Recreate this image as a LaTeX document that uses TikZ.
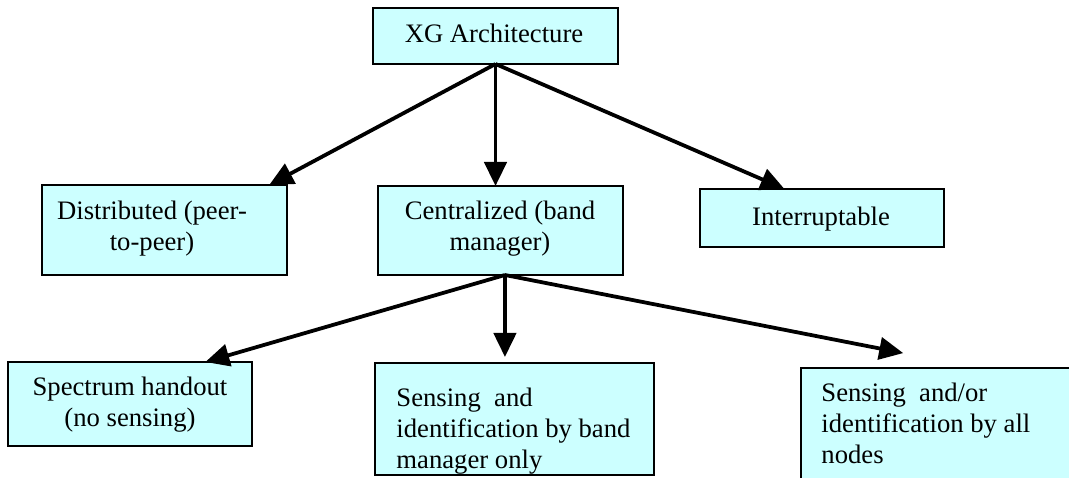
\documentclass[tikz,border=0pt]{standalone}
\usepackage{fontspec}
\setmainfont{Liberation Serif}
\usetikzlibrary{arrows.meta}
\definecolor{boxcyan}{HTML}{CCFFFF}
\begin{document}
\begin{tikzpicture}[x=0.45pt,y=-0.45pt,
  box/.style={draw=black,line width=0.75pt,fill=boxcyan,inner sep=0pt,outer sep=0pt},
  txt/.style={inner sep=0pt,font=\fontsize{12pt}{13.8pt}\selectfont,anchor=north,align=center},
  txtl/.style={txt,anchor=north west,align=left},
  conn/.style={line width=1.7pt,-{Triangle[length=10.8pt,width=10pt]}}]
\useasboundingbox (0,0) rectangle (1069,478);
% boxes
\node[box,minimum width=245*0.45pt,minimum height=56*0.45pt] (xg) at (495.5,36) {};
\node[box,minimum width=245*0.45pt,minimum height=90*0.45pt] (dist) at (164.5,230) {};
\node[box,minimum width=245*0.45pt,minimum height=89*0.45pt] (cent) at (500.5,230.5) {};
\node[box,minimum width=244*0.45pt,minimum height=58*0.45pt] (intr) at (822,218) {};
\node[box,minimum width=244*0.45pt,minimum height=84*0.45pt] (spec) at (130,404) {};
\node[box,minimum width=279*0.45pt,minimum height=112*0.45pt] (sens) at (514.5,419) {};
\node[box,minimum width=274*0.45pt,minimum height=127*0.45pt] (all) at (938,431.5) {};
% texts
\node[txt] (xgt) at (494,24) {XG Architecture};
\node[txt] (distt) at (152,201) {Distributed (peer-\\to-peer)};
\node[txt] (centt) at (500,201) {Centralized (band\\manager)};
\node[txt] (intrt) at (821,207) {Interruptable};
\node[txt] (spect) at (130,377) {Spectrum handout\\(no sensing)};
\node[txtl] (senst) at (396,388) {Sensing\ \ and\\identification by band\\manager only};
\node[txtl] (allt) at (821,383) {Sensing\ \ and/or\\identification by all\\nodes};
% connectors
\draw[conn] (xg.south) -- ([xshift=-8pt]dist.north east);
\draw[conn] (xg.south) -- (xg.south |- cent.north);
\draw[conn] (xg.south) -- ([xshift=38pt]intr.north west);
\coordinate (cb) at ([xshift=2pt]cent.south);
\draw[conn] (cb) -- ([xshift=-21pt]spec.north east);
\draw[conn] (cb) -- ([yshift=2.7pt]cb |- sens.north);
\draw[conn] (cb) -- ([xshift=46pt,yshift=6.7pt]all.north west);
\end{tikzpicture}
\end{document}
